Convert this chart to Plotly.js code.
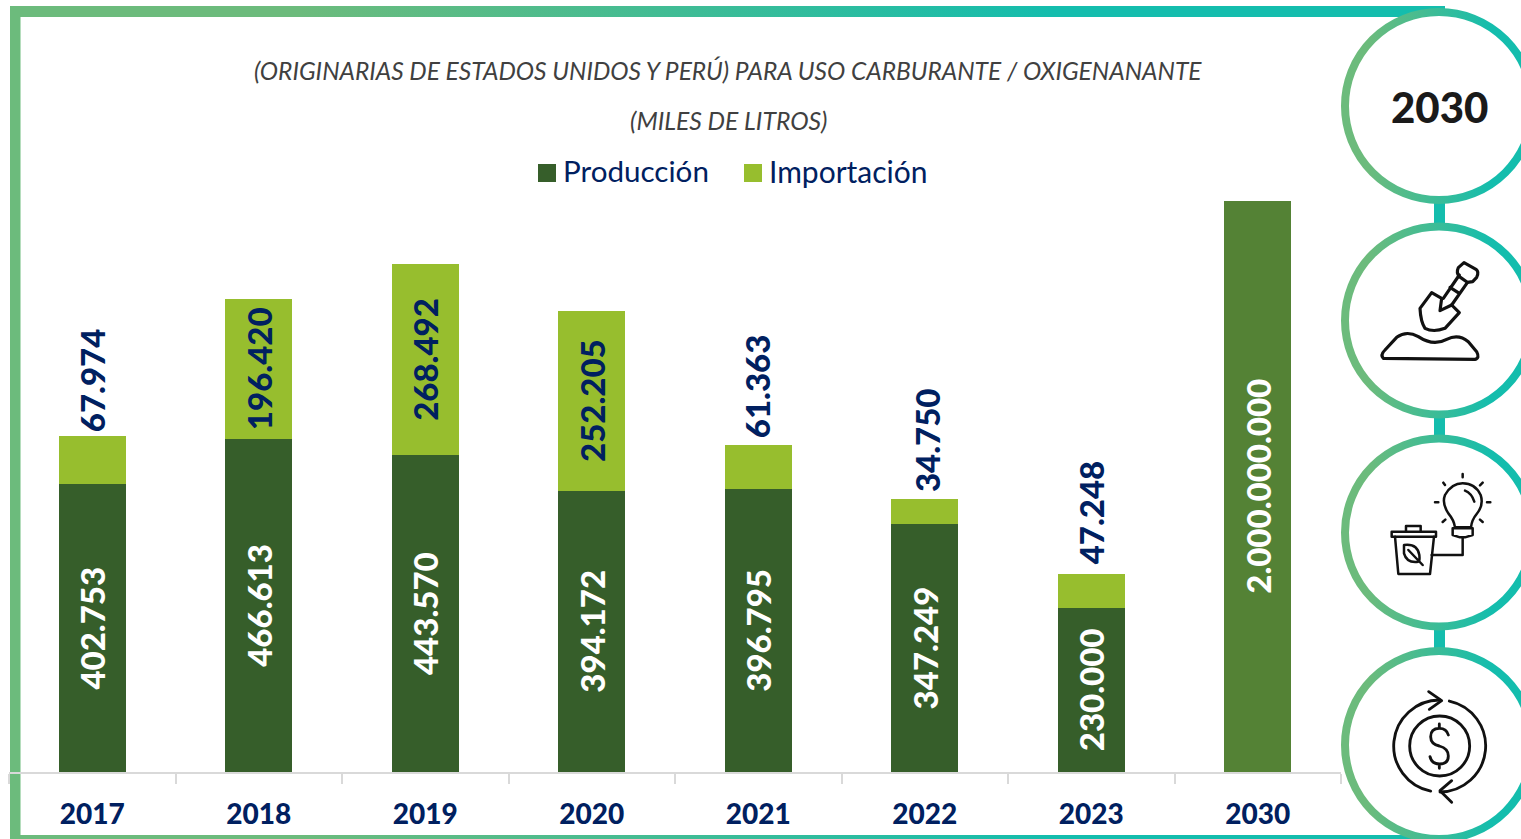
<!DOCTYPE html>
<html lang="es">
<head>
<meta charset="utf-8">
<title>Producción e importación</title>
<script src="https://cdn.plot.ly/plotly-3.0.1.min.js"></script>
<style>
html,body{margin:0;padding:0;width:1521px;height:839px;overflow:hidden;background:#fff}
#deco{position:absolute;left:0;top:0;z-index:0}
#chart{position:absolute;left:0;top:0;width:1521px;height:839px;z-index:1}
</style>
</head>
<body>
<svg id="deco" width="1521" height="839" viewBox="0 0 1521 839" xmlns="http://www.w3.org/2000/svg">
  <defs>
    <linearGradient id="frameG" gradientUnits="userSpaceOnUse" x1="300" y1="0" x2="1050" y2="0">
      <stop offset="0" stop-color="#6CBB7C"/><stop offset="1" stop-color="#14BDAD"/>
    </linearGradient>
    <linearGradient id="ringG" gradientUnits="objectBoundingBox" x1="0.12" y1="0" x2="0.78" y2="0">
      <stop offset="0" stop-color="#6CBB7C"/><stop offset="1" stop-color="#14BDAD"/>
    </linearGradient>
  </defs>
  <rect x="10" y="6" width="1435" height="11" fill="url(#frameG)"/>
  <rect x="10" y="6" width="10.5" height="833" fill="#6CBB7C"/>
  <rect x="10" y="835" width="1435" height="4" fill="url(#frameG)"/>
  <rect x="1434" y="200" width="11" height="30" fill="#14BDAD"/>
  <rect x="1434" y="414" width="11" height="30" fill="#14BDAD"/>
  <rect x="1434" y="626" width="11" height="30" fill="#14BDAD"/>
  <g fill="#fff" stroke="url(#ringG)" stroke-width="8">
    <circle cx="1439" cy="106" r="94"/>
    <circle cx="1439" cy="320.500" r="94"/>
    <circle cx="1439" cy="532.500" r="94"/>
    <circle cx="1439" cy="745" r="94"/>
  </g>
  <g transform="translate(1330,0) scale(0.33333)" fill="none" stroke="#111" stroke-width="9.500" stroke-linejoin="round" stroke-linecap="round">
    <path d="M385 803 L402 788 L438 808 Q448 816 440 832 L428 845 L412 847 L388 830 Q378 818 385 803Z"/>
    <path d="M388 825 L340 895 M412 848 L365 915 M360 862 L388 880"/>
    <path d="M305 878 L335 895 L330 932 L365 915 L388 938 L345 985 Q310 998 285 985 Q272 965 270 925Z"/>
    <path d="M160 1075 Q150 1065 165 1050 L200 1012 Q230 990 265 1010 Q310 1040 350 1018 Q385 1000 415 1025 L440 1055 Q450 1075 435 1078Z"/>
  </g>
  <g transform="translate(1330,420) scale(0.33333)" fill="none" stroke="#111" stroke-width="7.500" stroke-linejoin="round" stroke-linecap="round">
    <path d="M375 322 Q372 300 355 280 Q335 250 345 225 Q365 190 398 190 Q435 190 452 225 Q462 255 440 282 Q425 300 423 322Z"/>
    <path d="M368 325 H428 V345 L405 352 H390 L368 345Z"/>
    <path d="M405 212 Q425 220 433 245"/>
    <path d="M398 162 V172 M340 188 L345 195 M458 188 L450 196 M315 247 H325 M471 247 H481 M338 306 L346 299 M458 306 L450 299"/>
    <path d="M398 352 V405 H305"/>
    <path d="M185 335 H318 V350 H185Z M228 332 V318 H272 V332"/>
    <path d="M195 350 L205 462 H300 L312 350"/>
    <path d="M222 375 Q262 370 268 405 Q270 425 265 425 Q230 430 222 400Z M235 390 L278 435"/>
  </g>
  <g transform="translate(1330,420) scale(0.33333)" fill="none" stroke="#111" stroke-width="8.500" stroke-linejoin="round" stroke-linecap="round">
    <circle cx="329" cy="978" r="90"/>
    <path d="M302 1113.300 A138 138 0 0 1 329 840"/>
    <path d="M296 815 L335 842 L298 868"/>
    <path d="M358 843.100 A138 138 0 0 1 330 1116"/>
    <path d="M365 1082 L330 1112 L365 1147"/>
    <path d="M355 945 Q350 925 328 925 Q302 925 302 950 Q302 972 328 978 Q355 985 355 1008 Q355 1032 328 1032 Q305 1032 300 1010 M328 912 V925 M328 1032 V1045"/>
  </g>
</svg>
<div id="chart"></div>
<script>
var categories = ['2017','2018','2019','2020','2021','2022','2023','2030'];
var aniosHistoricos = ['2017','2018','2019','2020','2021','2022','2023'];
var produccion = [402753,466613,443570,394172,396795,347249,230000];
var importacion = [67974,196420,268492,252205,61363,34750,47248];
var produccionTexto = ['402.753','466.613','443.570','394.172','396.795','347.249','230.000'];
var importacionTexto = ['67.974','196.420','268.492','252.205','61.363','34.750','47.248'];
var etiquetaFuera = [true,false,false,false,true,true,true];
var etiquetaXShift = [0,0,0,0,-1,3,0];
var etiquetaYShift = [3,0,0,0,6,6,9];
var anioMeta = ['2030'];
var metaAltura = [800500];   // drawn height of the (truncated) 2030 bar
var metaTexto = ['2.000.000.000'];
var nombres = ['Producción','Importación'];
var colores = ['#365E2A','#97BE2E'];
var tituloLinea1 = '(ORIGINARIAS DE ESTADOS UNIDOS Y PERÚ) PARA USO CARBURANTE / OXIGENANANTE';
var tituloLinea2 = '(MILES DE LITROS)';
var insignia = '2030';

var FONT = 'Lato, Carlito, sans-serif';
var NAVY = '#002060';
var SZ = 33;
var L = 9, R = 1341, T = 172, B = 772;
function px(x){ return (x - L) / (R - L); }
function py(y){ return (B - y) / (B - T); }

function barTrace(name, x, y, text, color, textColor){
  return {
    type:'bar', name:name, x:x, y:y, text:text,
    marker:{color:color}, width:0.403, showlegend:false,
    textposition:'inside', textangle:-90, constraintext:'none', cliponaxis:false,
    insidetextanchor:'middle',
    textfont:{family:FONT, size:SZ, color:textColor, weight:900},
    hoverinfo:'x+y+name'
  };
}
var data = [
  barTrace(nombres[0], aniosHistoricos, produccion, produccionTexto, colores[0], '#ffffff'),
  barTrace(nombres[1], aniosHistoricos, importacion,
    importacionTexto.map(function(t,i){ return etiquetaFuera[i] ? '' : t; }), colores[1], NAVY),
  barTrace('Meta 2030', anioMeta, metaAltura, metaTexto, '#548235', '#ffffff')
];

var legendX = [[538,561],[744,767]];
var shapes = [], annotations = [];
nombres.forEach(function(n,i){
  shapes.push({type:'rect', xref:'paper', yref:'paper', x0:px(legendX[i][0]), x1:px(legendX[i][0]+18),
    y0:py(182), y1:py(164), fillcolor:colores[i], line:{width:0}, layer:'above'});
  annotations.push({text:n, xref:'paper', yref:'paper', x:px(legendX[i][1]), y:py(171), xanchor:'left', yanchor:'middle',
    showarrow:false, font:{family:FONT, size:i===0?29.600:30, color:NAVY}});
});
aniosHistoricos.forEach(function(a,i){
  if(!etiquetaFuera[i]) return;
  annotations.push({text:importacionTexto[i], xref:'x', yref:'y', x:i, y:produccion[i]+importacion[i],
    xanchor:'center', yanchor:'bottom', textangle:-90, showarrow:false,
    xshift:etiquetaXShift[i], yshift:etiquetaYShift[i], borderpad:0,
    font:{family:FONT, size:SZ, color:NAVY, weight:900}});
});
annotations.push({text:tituloLinea1, xref:'paper', yref:'paper', x:px(728), y:py(70), xanchor:'center', yanchor:'middle',
  showarrow:false, font:{family:FONT, size:24.500, color:'#404040', style:'italic'}});
annotations.push({text:tituloLinea2, xref:'paper', yref:'paper', x:px(728), y:py(120), xanchor:'center', yanchor:'middle',
  showarrow:false, font:{family:FONT, size:24.700, color:'#404040', style:'italic'}});
annotations.push({text:insignia, xref:'paper', yref:'paper', x:px(1439), y:py(107), xanchor:'center', yanchor:'middle',
  showarrow:false, font:{family:FONT, size:42, color:'#1a1a1a', weight:900}});

var layout = {
  width:1521, height:839,
  margin:{l:L, r:1521-R, t:T, b:839-B, pad:0},
  paper_bgcolor:'rgba(0,0,0,0)', plot_bgcolor:'rgba(0,0,0,0)',
  barmode:'stack', showlegend:false,
  font:{family:FONT},
  xaxis:{type:'category', categoryorder:'array', categoryarray:categories, range:[-0.5,7.5],
    tickson:'boundaries', ticks:'outside', ticklen:10, tickwidth:2, tickcolor:'#D9D9D9',
    showline:true, linecolor:'#D9D9D9', linewidth:2, showgrid:false, zeroline:false,
    ticklabelstandoff:16,
    tickfont:{family:FONT, size:28, color:NAVY, weight:900}},
  yaxis:{range:[0,840500], visible:false, showgrid:false, zeroline:false},
  shapes:shapes, annotations:annotations
};
Plotly.newPlot('chart', data, layout, {displayModeBar:false});
</script>
</body>
</html>
